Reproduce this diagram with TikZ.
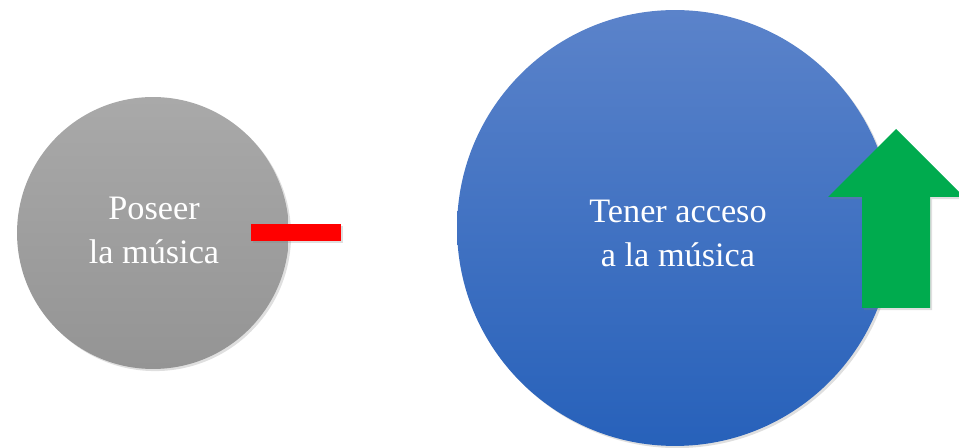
\documentclass[tikz,border=0pt]{standalone}
\usepackage{fontspec}
\setmainfont{Liberation Serif}
\usetikzlibrary{shadows}
\definecolor{grisarriba}{HTML}{A9A9A9}
\definecolor{grisabajo}{HTML}{949494}
\definecolor{azularriba}{HTML}{5B83CA}
\definecolor{azulabajo}{HTML}{2761BA}
\definecolor{verdeflecha}{HTML}{00AB4E}
\begin{document}
\begin{tikzpicture}[x=0.02cm,y=-0.02cm,
    sombra/.style={drop shadow={opacity=0.25,shadow xshift=1.2pt,shadow yshift=-1.2pt}},
    circulo/.style={circle,inner sep=0pt,sombra},
    texto/.style={text=white,align=center,font=\fontsize{19.5}{25}\selectfont}]
\useasboundingbox (0,0) rectangle (959,448);
% Circulos
    \node[circulo,minimum size=5.44cm,top color=grisarriba,bottom color=grisabajo] (poseer) at (153,233) {};
    \node[texto] (textoposeer) at (154,230) {Poseer\\la música};
    \node[circulo,minimum size=8.72cm,top color=azularriba,bottom color=azulabajo] (acceso) at (675,228) {};
    \node[texto] (textoacceso) at (678,233) {Tener acceso\\a la música};
% Signos
    \node[fill=red,inner sep=0pt,minimum width=1.8cm,minimum height=0.34cm,sombra] (menos) at (296,232.5) {};
    \fill[verdeflecha,sombra] (862,308) -- (862,197) -- (828,197) -- (896,129) -- (964,197) -- (930,197) -- (930,308) -- cycle;
\end{tikzpicture}
\end{document}
